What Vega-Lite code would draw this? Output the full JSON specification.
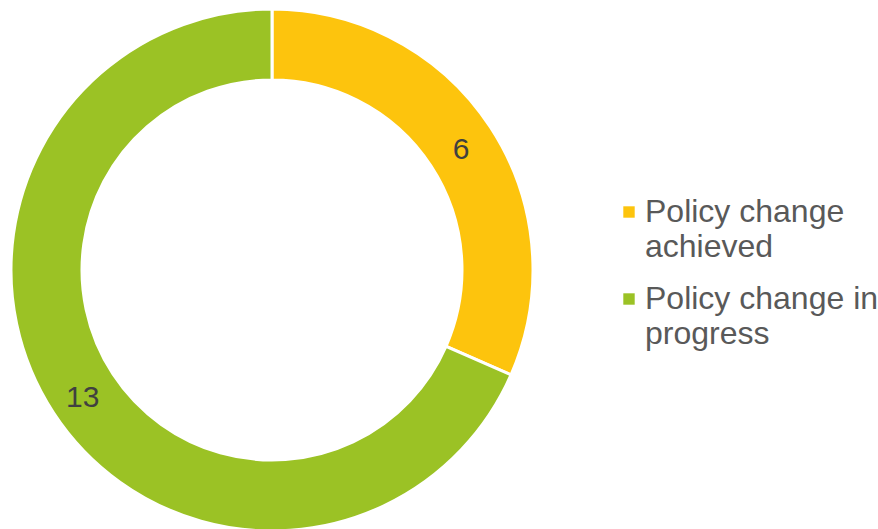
{
  "$schema": "https://vega.github.io/schema/vega-lite/v6.json",
  "width": 544,
  "height": 540,
  "padding": 0,
  "background": "white",
  "config": {
    "view": {"stroke": null},
    "style": {"guide-label": {"lineHeight": 35}}
  },
  "data": {
    "values": [
      {"status": "Policy change achieved", "count": 6},
      {"status": "Policy change in progress", "count": 13}
    ]
  },
  "encoding": {
    "theta": {"field": "count", "type": "quantitative", "stack": true}
  },
  "layer": [
    {
      "mark": {"type": "arc", "outerRadius": 261, "innerRadius": 190, "stroke": "white", "strokeWidth": 3},
      "encoding": {
        "color": {
          "field": "status",
          "type": "nominal",
          "scale": {"domain": ["Policy change achieved", "Policy change in progress"], "range": ["#FDC40D", "#9BC225"]},
          "legend": {
            "orient": "none",
            "legendX": 613,
            "legendY": 196,
            "title": null,
            "padding": 0,
            "labelFont": "Liberation Sans",
            "labelFontSize": 32,
            "labelColor": "#595959",
            "labelBaseline": "middle",
            "labelLimit": 400,
            "labelOffset": 0,
            "symbolType": "square",
            "symbolSize": 130,
            "symbolStrokeWidth": 0,
            "rowPadding": 20,
            "labelExpr": "datum.label == 'Policy change achieved' ? ['Policy change', 'achieved'] : ['Policy change in', 'progress']"
          }
        }
      }
    },
    {
      "mark": {"type": "text", "radius": 226, "fontSize": 30, "font": "Liberation Sans", "fill": "#404040", "dy": 4},
      "encoding": {
        "detail": {"field": "status", "type": "nominal"},
        "text": {"field": "count", "type": "quantitative"}
      }
    }
  ]
}
